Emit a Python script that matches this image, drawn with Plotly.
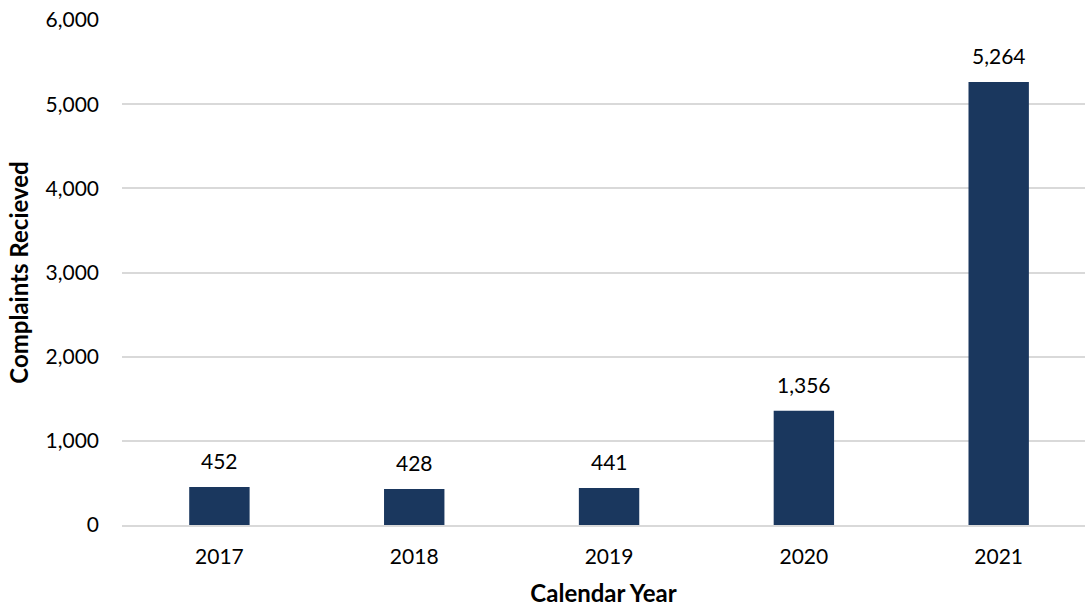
import plotly.graph_objects as go

years = ["2017", "2018", "2019", "2020", "2021"]
complaints = [452, 428, 441, 1356, 5264]
labels = ["452", "428", "441", "1,356", "5,264"]

FONT = "Lato"
BAR = "#1a375e"

fig = go.Figure()
fig.add_trace(go.Bar(x=years, y=complaints, marker=dict(color=BAR, line=dict(width=0)),
                     width=0.31, hoverinfo="skip"))

for i, (y, t) in enumerate(zip(complaints, labels)):
    fig.add_annotation(x=i, y=y, xref="x", yref="y", text=t, showarrow=False, yanchor="bottom",
                       yshift=12, font=dict(family=FONT, size=21, color="#000000"))

fig.update_layout(
    width=1085, height=607,
    margin=dict(l=122, r=0, t=19.5, b=81.7),
    paper_bgcolor="white", plot_bgcolor="white",
    showlegend=False,
    font=dict(family=FONT, size=21, color="#000000"),
)
fig.update_xaxes(
    type="category", range=[-0.5, 4.443],
    showgrid=False, showline=True, linecolor="#d9d9d9", linewidth=2,
    ticks="", ticklabelstandoff=12,
    tickfont=dict(family=FONT, size=21, color="#000000"),
    title=dict(text="<b>Calendar Year</b>", font=dict(family=FONT, size=24, color="#000000"), standoff=23),
)
fig.update_yaxes(
    range=[0, 6000], tickvals=[0, 1000, 2000, 3000, 4000, 5000, 6000],
    tickformat=",", showgrid=True, gridcolor="#d9d9d9", gridwidth=1.5,
    zeroline=False, showline=False, ticks="", ticklabelstandoff=22,
    tickfont=dict(family=FONT, size=21, color="#000000"),
    title=dict(text="<b>Complaints Recieved</b>", font=dict(family=FONT, size=24, color="#000000"), standoff=10),
)

fig.write_html("out.html")
